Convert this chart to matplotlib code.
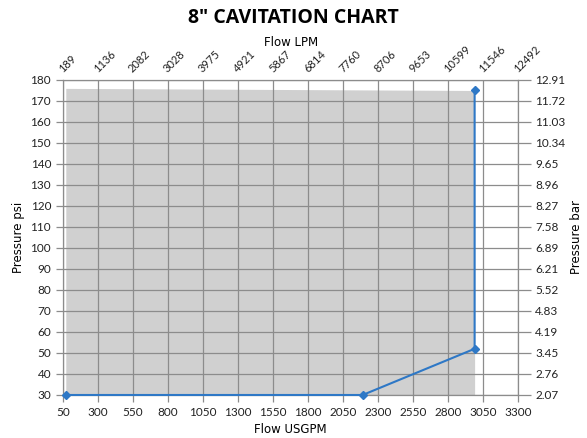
import matplotlib.pyplot as plt

flow_gpm = [70, 2190, 2990, 2990]
pressure_psi = [30, 30, 52, 175]

area_x = [70, 2990]
area_top = [176, 175]

gpm_ticks = [50, 300, 550, 800, 1050, 1300, 1550, 1800, 2050, 2300, 2550, 2800, 3050, 3300]
lpm_labels = ['189', '1136', '2082', '3028', '3975', '4921', '5867', '6814', '7760',
              '8706', '9653', '10599', '11546', '12492']
psi_ticks = list(range(30, 181, 10))
bar_labels = ['2.07', '2.76', '3.45', '4.19', '4.83', '5.52', '6.21', '6.89', '7.58',
              '8.27', '8.96', '9.65', '10.34', '11.03', '11.72', '12.91']

tick_font = 'Lato'
grid_c = '#8c8c8c'

fig = plt.figure(figsize=(5.87, 4.38), dpi=100)
ax = fig.add_axes([0.1073, 0.0982, 0.7752, 0.7192])

ax.fill_between(area_x, [30, 30], area_top, color='#d0d0d0', lw=0, zorder=1)
ax.plot(flow_gpm, pressure_psi, color='#2e78c6', lw=1.5, marker='D', ms=4.5, zorder=4,
        clip_on=False)

ax.set_xlim(50, 3300)
ax.set_ylim(30, 180)
ax.set_xticks(gpm_ticks)
ax.set_yticks(psi_ticks)
ax.grid(True, color=grid_c, lw=0.9, zorder=2)
ax.set_axisbelow(False)
for s in ax.spines.values():
    s.set_color(grid_c)
    s.set_linewidth(0.9)
ax.tick_params(colors=grid_c, labelcolor='#222222', length=5, width=0.9, labelsize=8.5)
for t in ax.get_xticklabels() + ax.get_yticklabels():
    t.set_fontfamily(tick_font)
ax.set_xlabel('Flow USGPM', fontsize=8.5, labelpad=4)
ax.set_ylabel('Pressure psi', fontsize=8.5, labelpad=4)

# LPM labels along the top, same positions as the USGPM ticks
top = ax.twiny()
top.set_xlim(ax.get_xlim())
top.set_xticks(gpm_ticks)
top.set_xticklabels(lpm_labels, rotation=45, ha='left', va='baseline',
                    rotation_mode='anchor', fontfamily=tick_font, fontsize=8,
                    color='#222222')
top.tick_params(length=0, pad=5)
for s in top.spines.values():
    s.set_visible(False)
fig.text(0.495, 0.904, 'Flow LPM', fontsize=8.5, ha='center', va='center')

right = ax.twinx()
right.set_ylim(ax.get_ylim())
right.set_yticks(psi_ticks)
right.set_yticklabels(bar_labels, fontfamily=tick_font, fontsize=8.5, color='#222222')
right.tick_params(colors=grid_c, labelcolor='#222222', length=9, width=0.9)
right.set_ylabel('Pressure bar', fontsize=8.5, labelpad=3)
for s in right.spines.values():
    s.set_visible(False)

fig.text(0.5, 0.958, '8" CAVITATION CHART', fontsize=14, fontweight='bold',
         fontfamily='Open Sans', ha='center', va='center')

fig.savefig('out.png', dpi=100)
